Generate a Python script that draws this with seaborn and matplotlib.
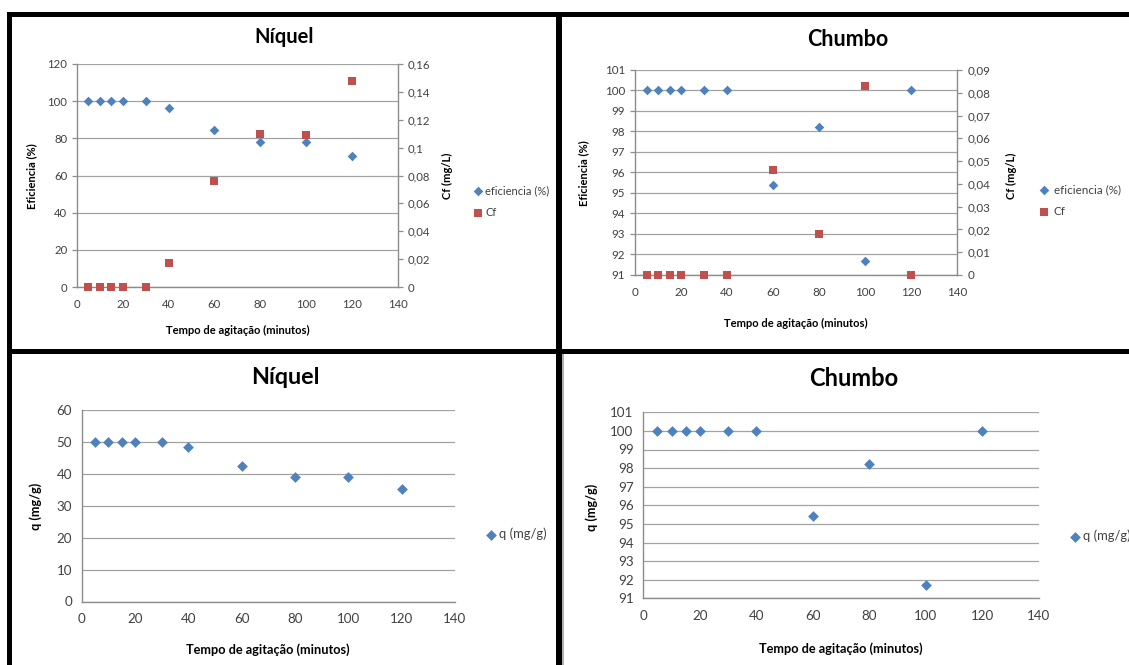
import numpy as np
import pandas as pd
import matplotlib
matplotlib.use("Agg")
import matplotlib.pyplot as plt
from matplotlib.ticker import FuncFormatter, MultipleLocator
from matplotlib.patches import Rectangle
import seaborn as sns

# ---------------- data ----------------
tempo = [5, 10, 15, 20, 30, 40, 60, 80, 100, 120]
niquel_eficiencia = [100, 100, 100, 100, 100, 96.5, 84.7, 78.0, 78.0, 70.3]
niquel_cf = [0, 0, 0, 0, 0, 0.017, 0.076, 0.110, 0.109, 0.148]
chumbo_eficiencia = [100, 100, 100, 100, 100, 100, 95.4, 98.2, 91.7, 100]
chumbo_cf = [0, 0, 0, 0, 0, 0, 0.046, 0.018, 0.083, 0]
niquel_q = [50, 50, 50, 50, 50, 48.3, 42.4, 39.0, 39.0, 35.1]
chumbo_q = [100, 100, 100, 100, 100, 100, 95.4, 98.2, 91.7, 100]

titles = ["Níquel", "Chumbo", "Níquel", "Chumbo"]
xlabel = "Tempo de agitação (minutos)"
ylabel_ef = "Eficiencia (%)"
ylabel_cf = "Cf (mg/L)"
ylabel_q = "q (mg/g)"
label_ef = "eficiencia (%)"
label_cf = "Cf"
label_q = "q (mg/g)"

BLUE = "#4F81BD"
RED = "#C0504D"
GRAY = "#8c8c8c"
GRID = "#a3a3a3"
TXT = "#404040"

sns.set_style("white")
plt.rcParams["font.family"] = ["Lato", "DejaVu Sans"]

W, H = 1129, 665
fig = plt.figure(figsize=(W / 100, H / 100), dpi=100)
fig.patch.set_facecolor("white")


def add_ax(x0, x1, ytop, ybot):
    return fig.add_axes([x0 / W, 1 - ybot / H, (x1 - x0) / W, (ybot - ytop) / H])


def fpt(x, y):
    return (x / W, 1 - y / H)


def comma_fmt(v, pos):
    if abs(v) < 1e-12:
        return "0"
    s = ("%.2f" % v).rstrip("0").rstrip(".")
    return s.replace(".", ",")


def style(ax, fs):
    for s in ["top", "right"]:
        ax.spines[s].set_visible(False)
    for s in ["left", "bottom"]:
        ax.spines[s].set_color(GRAY)
        ax.spines[s].set_linewidth(1.0)
    ax.grid(axis="y", color=GRID, lw=0.9)
    ax.grid(axis="x", visible=False)
    ax.set_axisbelow(True)
    ax.tick_params(axis="both", direction="out", length=3.5, width=0.9,
                   color=GRAY, labelsize=fs, labelcolor=TXT)
    ax.tick_params(axis="x", pad=5)
    ax.tick_params(axis="y", pad=3.5)
    ax.set_xlim(0, 140)
    ax.xaxis.set_major_locator(MultipleLocator(20))


def scat(ax, x, y, label, marker, color, s):
    df = pd.DataFrame({"x": x, "y": y})
    sns.scatterplot(data=df, x="x", y="y", ax=ax, marker=marker, color=color,
                    s=s, linewidth=0, label=label, legend=False, zorder=3,
                    clip_on=False)


def legend(ax, handles, labels, x, y, fs, spacing, tpad=0.15):
    ax.legend(handles, labels, loc="center left", bbox_to_anchor=fpt(x, y),
              bbox_transform=fig.transFigure, frameon=False, borderpad=0,
              borderaxespad=0, handlelength=1.0, handletextpad=tpad,
              labelspacing=spacing, fontsize=fs, labelcolor=TXT,
              scatterpoints=1)


def labels(ax, xl, xpos, yl, ypos, fs):
    ax.set_xlabel(xl, fontsize=fs, fontweight="bold", color="black")
    ax.set_ylabel(yl, fontsize=fs, fontweight="bold", color="black")
    ax.xaxis.label.set_va("center")
    ax.yaxis.label.set_va("center")
    ax.yaxis.label.set_ha("center")
    ax.xaxis.set_label_coords(*fpt(*xpos), transform=fig.transFigure)
    ax.yaxis.set_label_coords(*fpt(*ypos), transform=fig.transFigure)


def title(text, x, y, fs):
    fig.text(*fpt(x, y), text, fontsize=fs, fontweight="bold", color="black",
             ha="center", va="center")


def twin(ax, ylim, step, fs, yl, ypos):
    ax2 = ax.twinx()
    for s in ["top", "left", "bottom"]:
        ax2.spines[s].set_visible(False)
    ax2.spines["right"].set_color(GRAY)
    ax2.spines["right"].set_linewidth(1.0)
    ax2.grid(False)
    ax2.set_ylim(*ylim)
    ax2.yaxis.set_major_locator(MultipleLocator(step))
    ax2.yaxis.set_major_formatter(FuncFormatter(comma_fmt))
    ax2.tick_params(axis="y", direction="out", length=3.5, width=0.9,
                    color=GRAY, labelsize=fs, labelcolor=TXT, pad=4)
    ax2.set_ylabel(yl, fontsize=8.0, fontweight="bold", color="black")
    ax2.yaxis.label.set_va("center")
    ax2.yaxis.label.set_ha("center")
    ax2.yaxis.set_label_coords(*fpt(*ypos), transform=fig.transFigure)
    return ax2


# ---------------- top-left: Níquel eficiencia / Cf ----------------
ax1 = add_ax(77, 397.5, 64, 287)
style(ax1, 8.2)
ax1.set_ylim(0, 120)
ax1.yaxis.set_major_locator(MultipleLocator(20))
scat(ax1, tempo, niquel_eficiencia, label_ef, "D", BLUE, 24)
ax1b = twin(ax1, (0, 0.16), 0.02, 8.2, ylabel_cf, (447, 176))
scat(ax1b, tempo, niquel_cf, label_cf, "s", RED, 40)
labels(ax1, xlabel, (237.5, 330), ylabel_ef, (32, 176), 8.0)
title(titles[0], 284.6, 37, 14.5)
h1, l1 = ax1.get_legend_handles_labels()
h2, l2 = ax1b.get_legend_handles_labels()
legend(ax1b, h1 + h2, l1 + l2, 472.5, 201.5, 8.0, 0.95)

# ---------------- top-right: Chumbo eficiencia / Cf ----------------
ax2 = add_ax(635, 957, 70, 275)
style(ax2, 8.4)
ax2.set_ylim(91, 101)
ax2.yaxis.set_major_locator(MultipleLocator(1))
scat(ax2, tempo, chumbo_eficiencia, label_ef, "D", BLUE, 24)
ax2b = twin(ax2, (0, 0.09), 0.01, 8.4, ylabel_cf, (1011, 176))
scat(ax2b, tempo, chumbo_cf, label_cf, "s", RED, 40)
labels(ax2, xlabel, (796, 323), ylabel_ef, (584, 173), 8.0)
title(titles[1], 848, 39, 15.5)
h1, l1 = ax2.get_legend_handles_labels()
h2, l2 = ax2b.get_legend_handles_labels()
legend(ax2b, h1 + h2, l1 + l2, 1038, 200.5, 8.4, 0.9, tpad=0.35)

# ---------------- bottom-left: Níquel q ----------------
ax3 = add_ax(81.8, 455, 410, 601.5)
style(ax3, 9.6)
ax3.set_ylim(0, 60)
ax3.yaxis.set_major_locator(MultipleLocator(10))
scat(ax3, tempo, niquel_q, label_q, "D", BLUE, 30)
labels(ax3, xlabel, (268, 650), ylabel_q, (36, 506), 9.2)
title(titles[2], 285.7, 378, 16.8)
h, l = ax3.get_legend_handles_labels()
legend(ax3, h, l, 484, 534, 9.4, 1.0)

# ---------------- bottom-right: Chumbo q ----------------
ax4 = add_ax(643.3, 1038.5, 412.3, 598.3)
style(ax4, 9.6)
ax4.set_ylim(91, 101)
ax4.yaxis.set_major_locator(MultipleLocator(1))
scat(ax4, tempo, chumbo_q, label_q, "D", BLUE, 30)
labels(ax4, xlabel, (840.7, 649), ylabel_q, (592, 507), 9.2)
title(titles[3], 854, 379, 17)
h, l = ax4.get_legend_handles_labels()
legend(ax4, h, l, 1068, 536, 9.4, 1.0)

# ---------------- black panel borders ----------------
def bar(x0, y0, x1, y1, color="black"):
    fig.add_artist(Rectangle((x0 / W, 1 - y1 / H), (x1 - x0) / W, (y1 - y0) / H,
                             transform=fig.transFigure, facecolor=color,
                             edgecolor="none", zorder=10))

bar(7, 12, W, 17)          # top
bar(7, 12, 12, H)          # left
bar(556, 12, 562, H)       # middle vertical
bar(7, 349, W, 354)        # middle horizontal
bar(562, 354, 564, H, color="#b0b0b0")

fig.savefig("out.png", dpi=100)
